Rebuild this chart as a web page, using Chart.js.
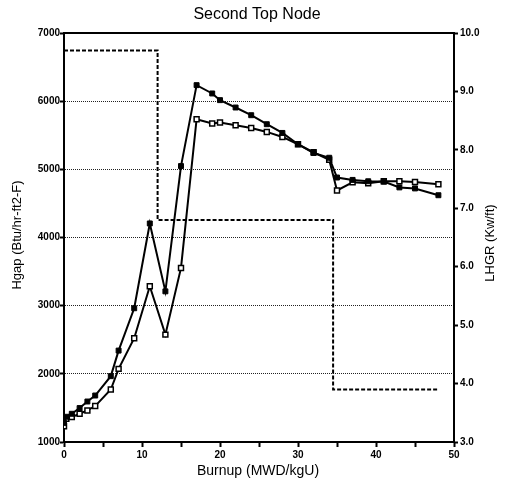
<!DOCTYPE html>
<html><head><meta charset="utf-8">
<script src="https://cdn.jsdelivr.net/npm/chart.js@4.4.0/dist/chart.umd.min.js"></script>
<style>html,body{margin:0;padding:0;background:#fff}#wrap{width:508px;height:484px}</style>
</head><body><div id="wrap"><canvas id="c" width="508" height="484"></canvas></div>
<script>
const chartTitle = 'Second Top Node';
const xTitle = 'Burnup (MWD/kgU)';
const yTitle = 'Hgap (Btu/hr-ft2-F)';
const y2Title = 'LHGR (Kw/ft)';
const burnup = [0,0.3,1,2,3,4,6,7,9,11,13,15,17,19,20,22,24,26,28,30,32,34,35,37,39,41,43,45,48];
const hgapA  = [1280,1370,1414,1498,1594,1682,1966,2341,2962,4206,3210,5048,6235,6113,6015,5907,5794,5662,5534,5368,5240,5170,4880,4845,4825,4820,4735,4720,4620];
const hgapB  = [1230,1340,1366,1414,1463,1527,1770,2073,2523,3284,2575,3554,5735,5672,5686,5647,5607,5549,5475,5368,5250,5140,4690,4810,4795,4825,4825,4815,4780];
const lhgrBurnup = [0,12,12,34.5,34.5,48];
const lhgr = [9.7,9.7,6.8,6.8,3.9,3.9];
const xRange = [0,50];
const yRange = [1000,7000];
const y2Range = [3,10];

const FONT = '"Liberation Sans", Arial, Helvetica, sans-serif';
const pts = (xs, ys) => xs.map((x,i)=>({x, y: ys[i]}));

const titles = {
  id: 'titles',
  afterDraw(chart) {
    const ctx = chart.ctx;
    ctx.save();
    ctx.fillStyle = '#000';
    ctx.textAlign = 'center';
    ctx.textBaseline = 'middle';
    ctx.font = '16px ' + FONT;
    ctx.fillText(chartTitle, 257, 15);
    ctx.font = '14px ' + FONT;
    ctx.fillText(xTitle, 258, 471);
    ctx.font = '13px ' + FONT;
    ctx.save(); ctx.translate(17, 235); ctx.rotate(-Math.PI/2); ctx.fillText(yTitle, 0, 0); ctx.restore();
    ctx.save(); ctx.translate(490, 243); ctx.rotate(-Math.PI/2); ctx.fillText(y2Title, 0, 0); ctx.restore();
    ctx.restore();
  }
};

new Chart(document.getElementById('c'), {
  type: 'line',
  data: {
    datasets: [
      { data: pts(burnup, hgapA), yAxisID: 'y', borderColor: '#000', borderWidth: 2,
        pointStyle: 'rect', pointRadius: 3.5, pointBackgroundColor: '#000', pointBorderColor: '#000', pointBorderWidth: 1, tension: 0 },
      { data: pts(burnup, hgapB), yAxisID: 'y', borderColor: '#000', borderWidth: 2,
        pointStyle: 'rect', pointRadius: 3.5, pointBackgroundColor: '#fff', pointBorderColor: '#000', pointBorderWidth: 1.5, tension: 0 },
      { data: pts(lhgrBurnup, lhgr), yAxisID: 'y2', borderColor: '#000', borderWidth: 2,
        borderDash: [4,2], pointRadius: 0, tension: 0 }
    ]
  },
  options: {
    responsive: false, animation: false, devicePixelRatio: 1,
    layout: { padding: { top: 33, left: 0, right: 0, bottom: 0 } },
    plugins: { legend: { display: false }, title: { display: false }, tooltip: { enabled: false } },
    scales: {
      x: {
        type: 'linear', position: 'bottom', min: xRange[0], max: xRange[1],
        afterFit(s) { s.height = 42; },
        ticks: { stepSize: 5, autoSkip: false, maxRotation: 0, padding: 2, color: '#000',
          font: { family: FONT, size: 10, weight: 'bold' },
          callback: v => (v % 10 === 0 ? String(v) : '') },
        grid: { drawOnChartArea: false, tickLength: 5, tickWidth: 2, tickColor: '#000' },
        border: { display: true, color: '#000', width: 2 }
      },
      xTop: {
        type: 'linear', position: 'top', min: xRange[0], max: xRange[1],
        afterFit(s) { s.height = 0; },
        ticks: { display: false },
        grid: { drawOnChartArea: false, drawTicks: false },
        border: { display: true, color: '#000', width: 2 }
      },
      y: {
        type: 'linear', position: 'left', min: yRange[0], max: yRange[1],
        afterFit(s) { s.width = 64; },
        ticks: { stepSize: 1000, padding: 0, color: '#000',
          font: { family: FONT, size: 10, weight: 'bold' },
          callback: v => String(v) },
        grid: { drawOnChartArea: true, color: '#222', lineWidth: 1, tickLength: 4, tickWidth: 2, tickColor: '#000' },
        border: { display: true, color: '#000', width: 2, dash: [1,1] }
      },
      y2: {
        type: 'linear', position: 'right', min: y2Range[0], max: y2Range[1],
        afterFit(s) { s.width = 54; },
        ticks: { stepSize: 1, padding: 2, color: '#000',
          font: { family: FONT, size: 10, weight: 'bold' },
          callback: v => Number(v).toFixed(1) },
        grid: { drawOnChartArea: false, tickLength: 4, tickWidth: 2, tickColor: '#000' },
        border: { display: true, color: '#000', width: 2 }
      }
    }
  },
  plugins: [titles]
});
</script>
</body></html>
